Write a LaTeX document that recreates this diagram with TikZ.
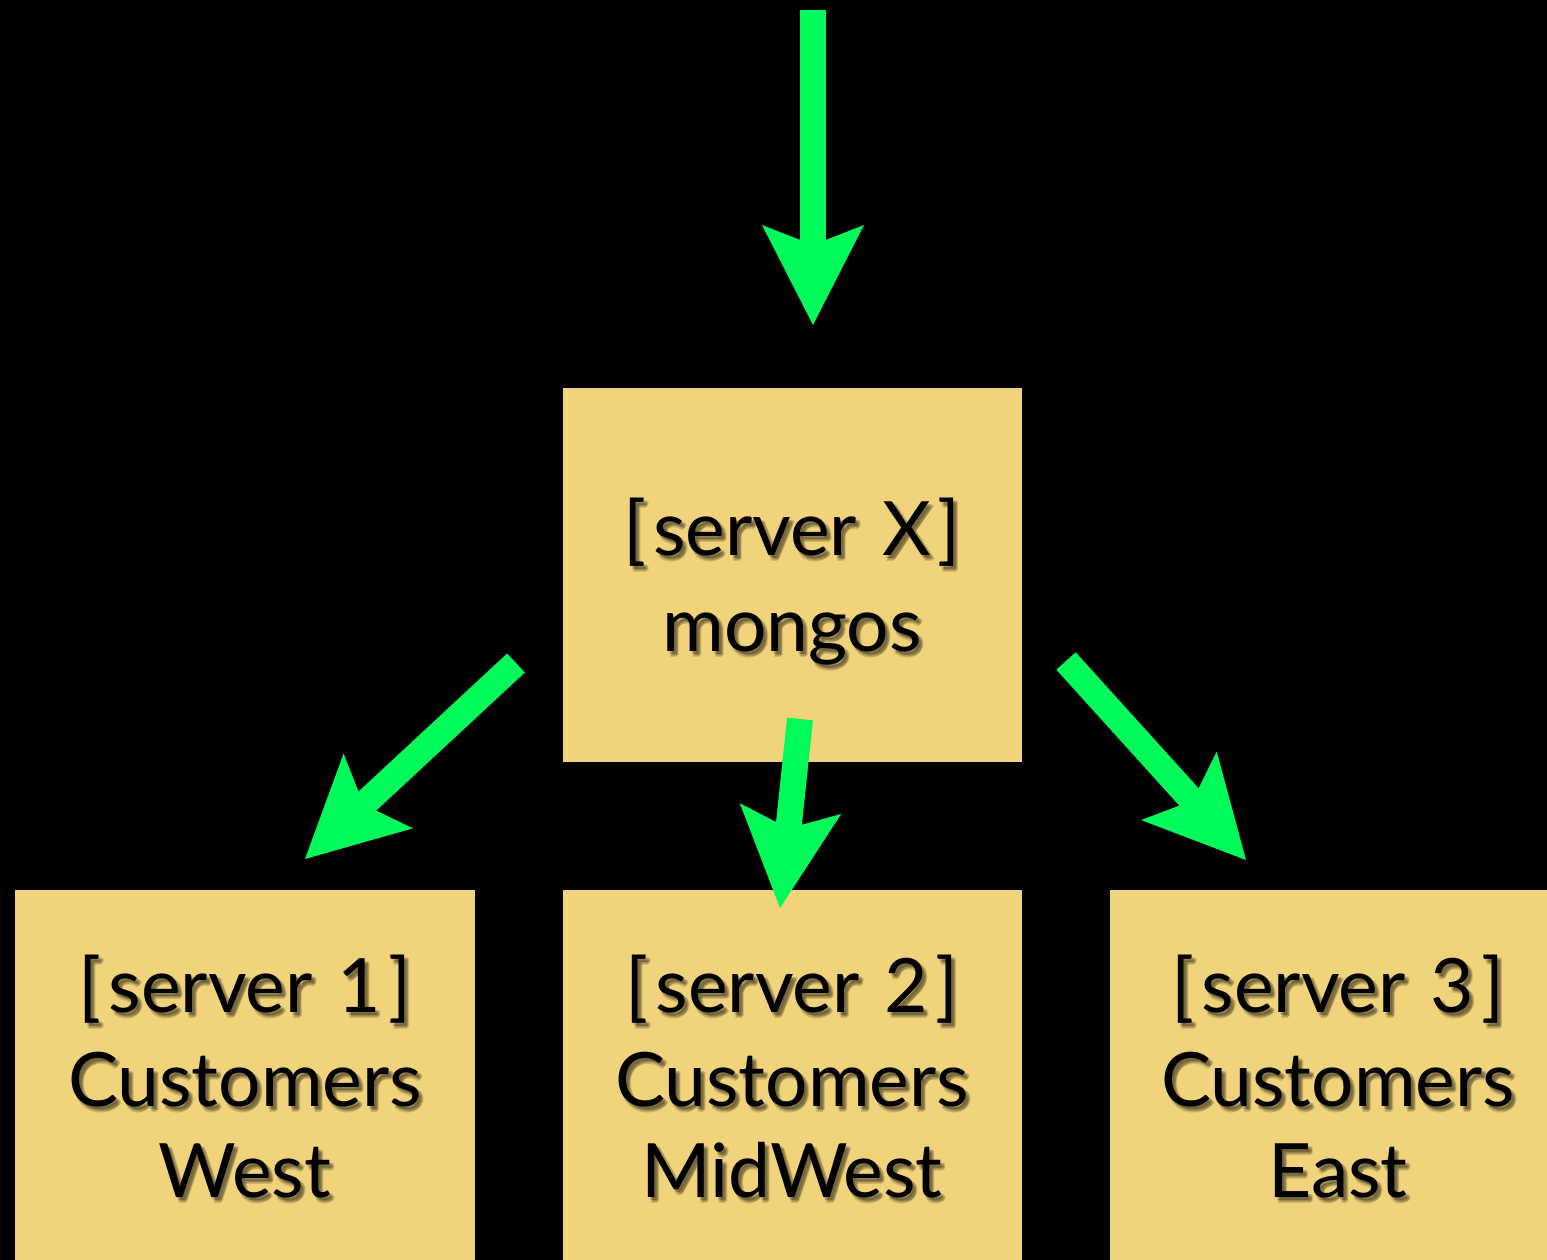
\documentclass[tikz,border=0pt]{standalone}
\usepackage{fontspec}
\setmainfont{Lato}[WordSpace=1.3]
\usetikzlibrary{arrows.meta}
\definecolor{bg}{RGB}{0,0,0}
\definecolor{note}{RGB}{240,211,122}
\definecolor{arrowgreen}{RGB}{0,250,90}
\tikzset{
  notebox/.style={fill=note, draw=none, inner sep=0pt, outer sep=0pt, anchor=north west},
  lbl/.style={font=\fontsize{75}{90}\selectfont, text=black, inner sep=0pt, anchor=base},
  lblshadow/.style={lbl, text=black, text opacity=0.13},
  flow/.style={draw=arrowgreen, line width=26pt,
    -{Stealth[length=100pt,width=102pt,inset=20pt,line width=0pt]}},
}
\newcommand{\srv}[1]{[\kern7pt server #1\kern7pt]}
\newcommand{\notelabel}[4]{%
  \foreach \dx/\dy [count=\i] in {2/3,4/5,3/6,5/4,4/3}{%
    \node[lblshadow] (#1s\i) at (#2+\dx,#3+\dy) {#4};}
  \node[lbl] (#1) at (#2,#3) {#4};
}
\begin{document}
\begin{tikzpicture}[x=1pt,y=-1pt]
\useasboundingbox (0,0) rectangle (1547,1260);
\fill[bg] (0,0) rectangle (1547,1260);

% boxes
\node[notebox, minimum width=459pt, minimum height=374pt] (mongosbox) at (563,388) {};
\node[notebox, minimum width=460pt, minimum height=370pt] (box1) at (15,890) {};
\node[notebox, minimum width=459pt, minimum height=370pt] (box2) at (563,890) {};
\node[notebox, minimum width=437pt, minimum height=370pt] (box3) at (1110,890) {};

% labels
\notelabel{mxa}{792}{555}{\srv{X}}
\notelabel{mxb}{792}{651}{mongos}

\notelabel{ba}{245}{1012}{\srv{1}}
\notelabel{bb}{245}{1106}{Customers}
\notelabel{bc}{245}{1197}{West}

\notelabel{ca}{792}{1012}{\srv{2}}
\notelabel{cb}{792}{1106}{Customers}
\notelabel{cc}{792}{1197}{MidWest}

\notelabel{da}{1338}{1012}{\srv{3}}
\notelabel{db}{1338}{1106}{Customers}
\notelabel{dc}{1338}{1197}{East}

% arrows
\coordinate (inS) at (813,10);
\coordinate (inE) at (813,325);
\coordinate (a1S) at (516,663);
\coordinate (a1E) at (305,859);
\coordinate (a2S) at (800,719);
\coordinate (a2E) at (780,908);
\coordinate (a3S) at (1066,661);
\coordinate (a3E) at (1246,860);

\draw[flow] (inS) -- (inE);
\draw[flow] (a1S) -- (a1E);
\draw[flow] (a2S) -- (a2E);
\draw[flow] (a3S) -- (a3E);
\end{tikzpicture}
\end{document}
